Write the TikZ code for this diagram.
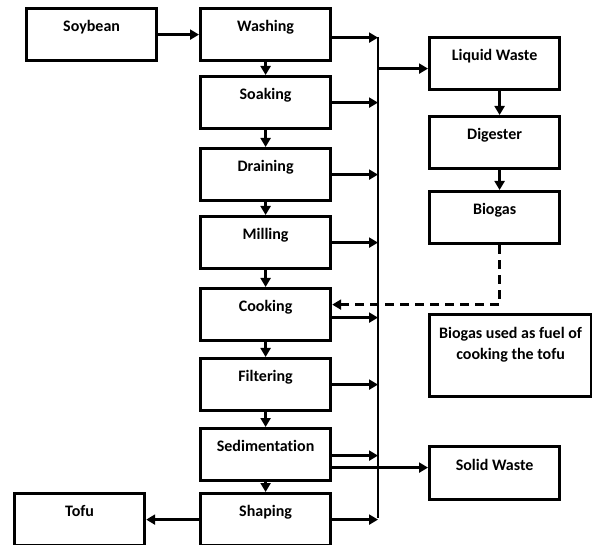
\documentclass[tikz,border=0pt]{standalone}
\usepackage{fontspec}
\setmainfont{Carlito}[Ligatures=NoCommon]
\usetikzlibrary{arrows.meta}

\begin{document}
\begin{tikzpicture}[x=1pt,y=-1pt]
                        \tikzstyle{box}=[draw, line width=3.2pt, anchor=north west, minimum width=130pt, minimum height=52pt, inner sep=0pt, text height=12pt, text depth=18pt, font=\fontsize{16}{21}\selectfont\bfseries]
                        \tikzstyle{arr}=[line width=2.8pt, -{Triangle[length=9pt,width=10pt]}]
                        \useasboundingbox (0,0) rectangle (592,545);
                        % main process column
                        \node[box] (soy) at (25,7) {Soybean};
                        \node[box] (wash) at (199,7) {Washing};
                        \node[box] (soak) at (199,75) {Soaking};
                        \node[box] (drain) at (199,147) {Draining};
                        \node[box] (mill) at (199,215) {Milling};
                        \node[box] (cook) at (199,287) {Cooking};
                        \node[box] (filt) at (199,357) {Filtering};
                        \node[box] (sed) at (199,427) {Sedimentation};
                        \node[box] (shape) at (199,492) {Shaping};
                        \node[box] (tofu) at (13,492) {Tofu};
                        % waste side
                        \node[box] (liq) at (428,36) {Liquid Waste};
                        \node[box] (dig) at (428,115) {Digester};
                        \node[box] (bio) at (428,190) {Biogas};
                        \node[box, minimum width=162pt, minimum height=82pt, align=center, text height=33pt, text depth=25pt] (fuel) at (428,313) {Biogas used as fuel of\\cooking the tofu};
                        \node[box, minimum height=53pt] (solid) at (428,445) {Solid Waste};
                        % collecting line
                        \coordinate (bus) at (378,0);
                        \coordinate (bustop) at (378,37);
                        \coordinate (busbot) at (378,518);
                        \draw[line width=2.8pt] (bustop) -- (busbot);
                        % arrows
                        \draw[arr] (soy.east) -- (wash.west);
                        \draw[arr] (wash) -- (soak);
                        \draw[arr] (soak) -- (drain);
                        \draw[arr] (drain) -- (mill);
                        \draw[arr] (mill) -- (cook);
                        \draw[arr] (cook) -- (filt);
                        \draw[arr] (filt) -- (sed);
                        \draw[arr] (sed) -- (shape);
                        \draw[arr] (shape.west) -- (tofu.east);
                        \draw[arr] ([yshift=-3pt]wash.east) -- ([yshift=-3pt]wash.east -| bus);
                        \draw[arr] (soak.east) -- (soak.east -| bus);
                        \draw[arr] (drain.east) -- (drain.east -| bus);
                        \draw[arr] (mill.east) -- (mill.east -| bus);
                        \draw[arr] ([yshift=-3pt]cook.east) -- ([yshift=-3pt]cook.east -| bus);
                        \draw[arr] (filt.east) -- (filt.east -| bus);
                        \draw[arr] ([yshift=-1pt]sed.east) -- ([yshift=-1pt]sed.east -| bus);
                        \draw[arr] ([yshift=-13pt]sed.east) -- ([yshift=-13pt]sed.east -| solid.west);
                        \draw[arr] (shape.east) -- (shape.east -| bus);
                        \draw[arr] ([yshift=-5pt]liq.west -| bus) -- ([yshift=-5pt]liq.west);
                        \draw[arr] ([xshift=5pt]liq.south) -- ([xshift=5pt]dig.north);
                        \draw[arr] ([xshift=5pt]dig.south) -- ([xshift=5pt]bio.north);
                        \draw[arr, dash pattern=on 9pt off 6pt] ([xshift=5pt]bio.south) |- ([yshift=10pt]cook.east);
                    \end{tikzpicture}
\end{document}
